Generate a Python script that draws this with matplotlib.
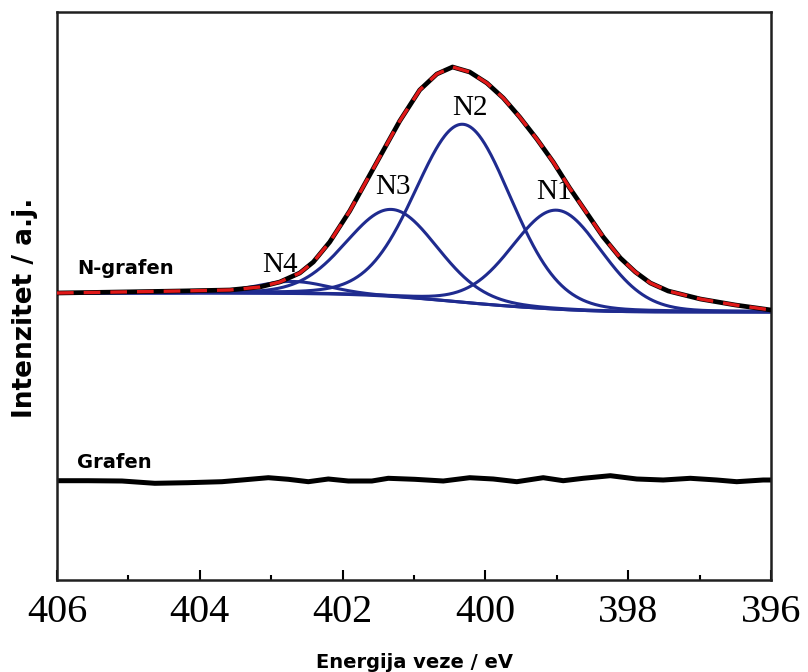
import numpy as np
import matplotlib.pyplot as plt
from matplotlib.ticker import MultipleLocator

# measured N 1s envelope of N-graphene (binding energy eV, intensity)
envelope_e = [406.00, 405.12, 404.28, 403.58, 403.16, 402.88, 402.60, 402.41, 402.18,
              401.90, 401.69, 401.48, 401.20, 400.92, 400.68, 400.46, 400.22, 399.98,
              399.75, 399.52, 399.28, 399.05, 398.82, 398.58, 398.35, 398.11, 397.90,
              397.69, 397.44, 396.99, 396.50, 396.00]
envelope_i = [287, 288, 289, 290, 293, 298, 307, 318, 338,
              369, 396, 423, 459, 490, 506, 513, 508, 497,
              482, 463, 441, 418, 392, 367, 343, 322, 308,
              297, 289, 281, 275, 270]

# fit components: centre (eV), height, half width at half maximum (eV)
comp_names = ['N1', 'N2', 'N3', 'N4']
comp_centres = [399.00, 400.31, 401.31, 402.70]
comp_heights = [99, 178, 87, 12]
comp_hwhm = [0.74, 0.79, 0.75, 0.60]
gl_mix = 0.1  # Lorentzian fraction of the GL line shape

# Shirley background levels on the high-BE and low-BE ends
bg_left, bg_right = 287, 268

# pristine graphene trace
grafen_e = [406.0, 405.57, 405.09, 404.63, 404.17, 403.69, 403.41, 403.04, 402.76, 402.48,
            402.20, 401.92, 401.59, 401.36, 400.99, 400.59, 400.22, 399.89, 399.56, 399.19,
            398.91, 398.63, 398.25, 397.88, 397.51, 397.13, 396.76, 396.48, 396.11, 396.0]
grafen_i = [99.3, 99.3, 99.0, 96.7, 97.3, 98.3, 100.0, 102.3, 100.7, 98.3,
            101.0, 99.0, 99.0, 101.7, 100.7, 99.0, 102.3, 101.0, 98.3, 102.3,
            99.3, 101.7, 104.3, 101.0, 100.0, 101.7, 100.0, 98.3, 100.0, 100.0]


def gl_peak(e, centre, height, hwhm, m=gl_mix):
    u = ((e - centre) / hwhm) ** 2
    return height * ((1 - m) * np.exp(-np.log(2) * u) + m / (1 + u))


energy = np.linspace(396, 406, 1001)
peaks = [gl_peak(energy, c, h, w) for c, h, w in zip(comp_centres, comp_heights, comp_hwhm)]
signal = np.sum(peaks, axis=0)
area = np.cumsum(signal)
background = bg_right + (bg_left - bg_right) * area / area[-1]

fig = plt.figure(figsize=(8.08, 6.72), dpi=100)
ax = fig.add_axes([57 / 808, 1 - 580 / 672, 714 / 808, 568 / 672])

navy = '#1f2b8f'
for p in peaks:
    ax.plot(energy, background + p, color=navy, lw=2.2, zorder=2)
ax.plot(energy, background, color=navy, lw=2.2, zorder=2)
ax.plot(envelope_e, envelope_i, color='black', lw=3.4, zorder=3,
        solid_joinstyle='round', solid_capstyle='round')
ax.plot(envelope_e, envelope_i, color='#e01818', lw=2.4, dashes=(5, 3), zorder=4)

ax.plot(grafen_e, grafen_i, color='black', lw=3.6, solid_joinstyle='round')

peak_font = dict(family='Liberation Serif', fontsize=21, ha='center', va='center', zorder=1)
label_pos = {'N1': (399.04, 388), 'N2': (400.22, 472), 'N3': (401.29, 393), 'N4': (402.88, 315)}
for name in comp_names:
    ax.text(*label_pos[name], name, **peak_font)

sample_font = dict(family='DejaVu Sans', fontweight='bold', fontsize=14, ha='left', va='center')
ax.text(405.72, 312, 'N-grafen', **sample_font)
ax.text(405.72, 118, 'Grafen', **sample_font)

ax.set_xlim(406, 396)
ax.set_ylim(0, 568)
ax.set_yticks([])
ax.xaxis.set_major_locator(MultipleLocator(2))
ax.xaxis.set_minor_locator(MultipleLocator(1))
ax.tick_params(axis='x', which='major', direction='in', length=7, width=1.5, pad=10)
ax.tick_params(axis='x', which='minor', direction='in', length=3.5, width=1.5)
for lab in ax.get_xticklabels():
    lab.set_family('Liberation Serif')
    lab.set_fontsize(29)
for sp in ax.spines.values():
    sp.set_linewidth(1.8)
    sp.set_color('#202020')

ax.set_xlabel('Energija veze / eV', fontsize=14, fontweight='bold', family='DejaVu Sans', labelpad=16)
ax.set_ylabel('Intenzitet / a.j.', fontsize=19, fontweight='bold', family='DejaVu Sans')
ax.yaxis.set_label_coords(-0.027, 0.48)

fig.savefig('out.png', dpi=100)
